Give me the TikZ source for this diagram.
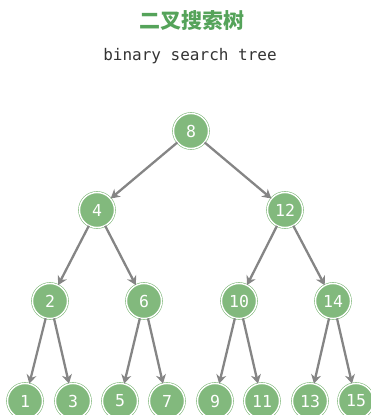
\documentclass[tikz,border=0pt]{standalone}
\usepackage{fontspec}
\setmonofont{DejaVu Sans Mono}
\newfontfamily\cjk{Noto Sans CJK SC}
\usetikzlibrary{arrows.meta}
\definecolor{treegreen}{HTML}{82B97D}
\definecolor{titlegreen}{HTML}{55A35A}
\definecolor{edgegray}{HTML}{858585}
\definecolor{textgray}{HTML}{333333}

\begin{document}
\begin{tikzpicture}[x=1pt, y=-1pt,
  vertex/.style={circle, minimum size=35pt, inner sep=0pt, fill=treegreen,
    draw=treegreen, double=white, double distance=1.4pt, line width=0.6pt,
    text=white, font=\ttfamily\fontsize{16.5}{16.5}\selectfont},
  edge/.style={edgegray, line width=2.3pt, -{Stealth[length=9pt, width=10pt]}}]
\useasboundingbox (0,0) rectangle (371,415);

\node[text=titlegreen, font=\cjk\bfseries\fontsize{21}{21}\selectfont] (title) at (192,21) {二叉搜索树};
\node[text=textgray, font=\ttfamily\fontsize{16}{16}\selectfont] (subtitle) at (190,56) {binary search tree};

% root and inner nodes
\node[vertex] (n8) at (191,131) {8};
\node[vertex] (n4) at (97,210) {4};
\node[vertex] (n12) at (285,210) {12};
\node[vertex] (n2) at (50,301) {2};
\node[vertex] (n6) at (144,301) {6};
\node[vertex] (n10) at (239,301) {10};
\node[vertex] (n14) at (333,301) {14};
% leaves
\node[vertex] (n1) at (25,401) {1};
\node[vertex] (n3) at (73,401) {3};
\node[vertex] (n5) at (120,401) {5};
\node[vertex] (n7) at (167,401) {7};
\node[vertex] (n9) at (215,401) {9};
\node[vertex] (n11) at (262,401) {11};
\node[vertex] (n13) at (310,401) {13};
\node[vertex] (n15) at (356,401) {15};

\draw[edge] (n8) -- (n4);
\draw[edge] (n8) -- (n12);
\draw[edge] (n4) -- (n2);
\draw[edge] (n4) -- (n6);
\draw[edge] (n12) -- (n10);
\draw[edge] (n12) -- (n14);
\draw[edge] (n2) -- (n1);
\draw[edge] (n2) -- (n3);
\draw[edge] (n6) -- (n5);
\draw[edge] (n6) -- (n7);
\draw[edge] (n10) -- (n9);
\draw[edge] (n10) -- (n11);
\draw[edge] (n14) -- (n13);
\draw[edge] (n14) -- (n15);
\end{tikzpicture}
\end{document}
